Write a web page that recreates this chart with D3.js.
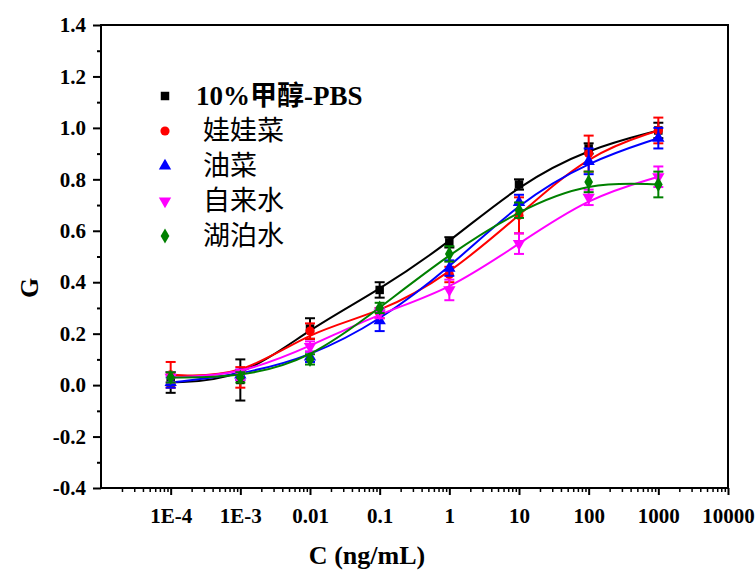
<!DOCTYPE html>
<html><head><meta charset="utf-8">
<script src="https://cdn.jsdelivr.net/npm/d3@7"></script>
<style>body{margin:0;background:#fff}svg{display:block}</style>
</head><body><svg id="c" width="756" height="574"></svg>
<script>
const concentrations = [1e-4, 1e-3, 0.01, 0.1, 1, 10, 100, 1000];
const seriesNames = ["10%甲醇-PBS", "娃娃菜", "油菜", "自来水", "湖泊水"];
const pbsValues     = [0.01, 0.02, 0.22, 0.37, 0.555, 0.78, 0.92, 0.99];
const pbsErrors     = [0.04, 0.08, 0.04, 0.03, 0.02, 0.02, 0.02, 0.03];
const wawaValues    = [0.04, 0.03, 0.21, 0.28, 0.43, 0.66, 0.90, 0.99];
const wawaErrors    = [0.05, 0.04, 0.03, 0.02, 0.03, 0.07, 0.07, 0.05];
const youcaiValues  = [0.01, 0.04, 0.11, 0.25, 0.455, 0.71, 0.87, 0.96];
const youcaiErrors  = [0.02, 0.02, 0.02, 0.04, 0.03, 0.03, 0.05, 0.04];
const tapValues     = [0.03, 0.04, 0.15, 0.28, 0.37, 0.55, 0.73, 0.81];
const tapErrors     = [0.02, 0.02, 0.02, 0.02, 0.04, 0.04, 0.03, 0.04];
const lakeValues    = [0.03, 0.03, 0.10, 0.30, 0.51, 0.68, 0.79, 0.78];
const lakeErrors    = [0.02, 0.02, 0.02, 0.02, 0.03, 0.03, 0.04, 0.05];
const seriesColors  = ["#000000", "#ff0000", "#0000ff", "#ff00ff", "#008000"];
const seriesSymbols = ["square", "circle", "triangle", "triangleDown", "diamond"];
const yTickValues = [-0.4, -0.2, 0.0, 0.2, 0.4, 0.6, 0.8, 1.0, 1.2, 1.4];
const xTickValues = [1e-4, 1e-3, 0.01, 0.1, 1, 10, 100, 1000, 10000];
const xTickLabels = ["1E-4", "1E-3", "0.01", "0.1", "1", "10", "100", "1000", "10000"];

const allValues = [pbsValues, wawaValues, youcaiValues, tapValues, lakeValues];
const allErrors = [pbsErrors, wawaErrors, youcaiErrors, tapErrors, lakeErrors];

const svg = d3.select("#c");
const L = 101, R = 728, T = 25, B = 488;
const x = d3.scaleLog().domain([1e-5, 1e4]).range([L, R]);
const y = d3.scaleLinear().domain([-0.4, 1.4]).range([B, T]);
const serif = "'Liberation Serif','Times New Roman',serif";
const cjk = "'Liberation Serif','Noto Sans CJK SC',serif";

// frame
svg.append("rect").attr("x", L).attr("y", T).attr("width", R - L).attr("height", B - T)
  .attr("fill", "none").attr("stroke", "#000").attr("stroke-width", 2);

// y axis
const yMinor = d3.range(-0.3, 1.4, 0.2).map(v => +v.toFixed(2));
const yAxis = svg.append("g").attr("transform", `translate(${L},0)`)
  .call(d3.axisLeft(y).tickValues(yTickValues).tickFormat(d => d.toFixed(1)).tickSize(8).tickPadding(7));
yAxis.select(".domain").remove();
yAxis.selectAll("line").attr("stroke-width", 2);
yAxis.selectAll("text").attr("font-family", serif).attr("font-weight", "bold").attr("font-size", 21).attr("fill", "#000");
svg.append("g").attr("transform", `translate(${L},0)`)
  .call(d3.axisLeft(y).tickValues(yMinor).tickFormat("").tickSize(4))
  .call(g => g.select(".domain").remove())
  .selectAll("line").attr("stroke-width", 2);

// x axis
const xMinor = [];
for (let e = -5; e < 4; e++) for (let m = 2; m <= 9; m++) xMinor.push(m * Math.pow(10, e));
const xAxis = svg.append("g").attr("transform", `translate(0,${B})`)
  .call(d3.axisBottom(x).tickValues(xTickValues).tickFormat((d, i) => xTickLabels[i]).tickSize(7).tickPadding(13));
xAxis.select(".domain").remove();
xAxis.selectAll("line").attr("stroke-width", 2);
xAxis.selectAll("text").attr("font-family", serif).attr("font-weight", "bold").attr("font-size", 21).attr("fill", "#000");
svg.append("g").attr("transform", `translate(0,${B})`)
  .call(d3.axisBottom(x).tickValues(xMinor).tickFormat("").tickSize(4))
  .call(g => g.select(".domain").remove())
  .selectAll("line").attr("stroke-width", 1.5);

// axis titles
svg.append("text").attr("x", 367).attr("y", 564).attr("text-anchor", "middle")
  .attr("font-family", serif).attr("font-weight", "bold").attr("font-size", 26).text("C (ng/mL)");
svg.append("text").attr("transform", `translate(38,288) rotate(-90)`).attr("text-anchor", "middle")
  .attr("font-family", serif).attr("font-weight", "bold").attr("font-size", 26).text("G");

const symbolTypes = {
  square: d3.symbolSquare, circle: d3.symbolCircle, triangle: d3.symbolTriangle,
  triangleDown: d3.symbolTriangle, diamond: d3.symbolDiamond
};
function sym(name) {
  const size = name === "square" ? 72 : 66;
  return d3.symbol().type(symbolTypes[name]).size(size)();
}

const line = d3.line().x(d => x(d.c)).y(d => y(d.v)).curve(d3.curveBasis);

allValues.forEach((vals, s) => {
  const data = concentrations.map((c, i) => ({ c, v: vals[i], e: allErrors[s][i] }));
  const g = svg.append("g");
  g.append("path").datum(data).attr("d", line).attr("fill", "none")
    .attr("stroke", seriesColors[s]).attr("stroke-width", 2);
  const eb = g.selectAll(".eb").data(data).enter().append("g");
  eb.append("line").attr("x1", d => x(d.c)).attr("x2", d => x(d.c))
    .attr("y1", d => y(d.v - d.e)).attr("y2", d => y(d.v + d.e))
    .attr("stroke", seriesColors[s]).attr("stroke-width", 2);
  [-1, 1].forEach(k => eb.append("line")
    .attr("x1", d => x(d.c) - 5).attr("x2", d => x(d.c) + 5)
    .attr("y1", d => y(d.v + k * d.e)).attr("y2", d => y(d.v + k * d.e))
    .attr("stroke", seriesColors[s]).attr("stroke-width", 2));
  g.selectAll(".pt").data(data).enter().append("path")
    .attr("d", sym(seriesSymbols[s]))
    .attr("transform", d => `translate(${x(d.c)},${y(d.v)})` + (seriesSymbols[s] === "triangleDown" ? " rotate(180)" : ""))
    .attr("fill", seriesColors[s]);
});

// legend
const legendY = [96, 131, 166, 201, 236];
seriesNames.forEach((name, s) => {
  const ly = legendY[s];
  svg.append("path").attr("d", sym(seriesSymbols[s]))
    .attr("transform", `translate(165,${ly})` + (seriesSymbols[s] === "triangleDown" ? " rotate(180)" : ""))
    .attr("fill", seriesColors[s]);
  svg.append("text").attr("x", s === 0 ? 196 : 203).attr("y", ly + 9)
    .attr("font-family", cjk).attr("font-weight", s === 0 ? "bold" : "normal")
    .attr("font-size", 27).attr("fill", "#000").text(name);
});
</script></body></html>
